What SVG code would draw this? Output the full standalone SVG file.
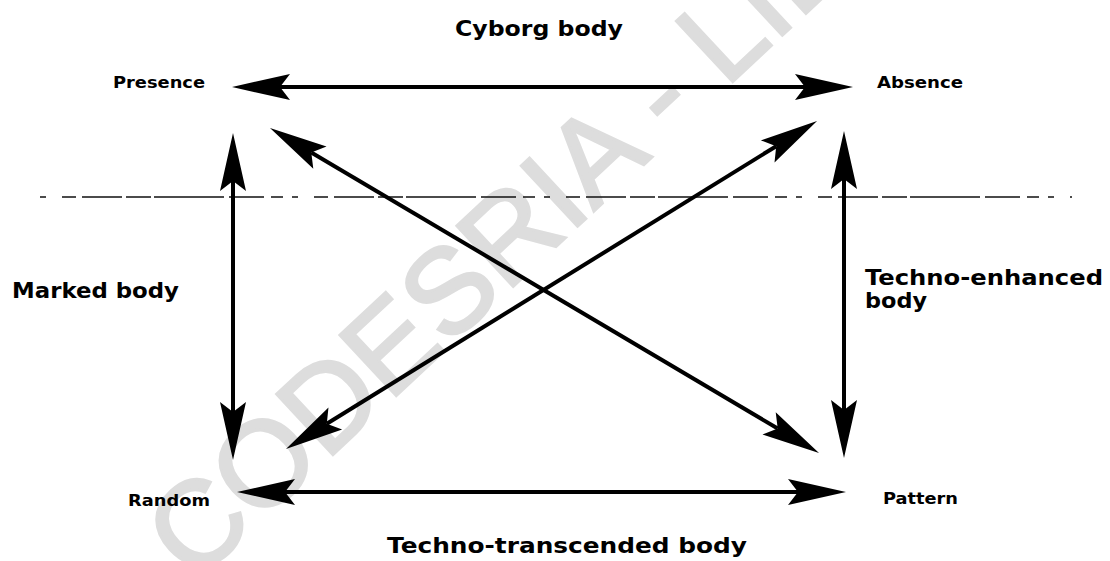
<svg xmlns="http://www.w3.org/2000/svg" width="1110" height="561" viewBox="0 0 1110 561">
  <style>
    .big { font-family: "DejaVu Sans", Verdana, sans-serif; font-weight: bold; font-size: 21px; fill: #000; }
    .small { font-family: "DejaVu Sans", Verdana, sans-serif; font-weight: bold; font-size: 16px; fill: #000; }
    .conn { stroke: #000; stroke-width: 4; fill: none; marker-start: url(#head); marker-end: url(#head); }
    .wm { font-family: "Liberation Sans", Arial, sans-serif; font-size: 120px; fill: #dddddd; stroke: #dddddd; stroke-width: 3; }
  </style>
  <defs>
    <marker id="head" markerUnits="userSpaceOnUse" viewBox="-12 -15 62 30" refX="0" refY="0" markerWidth="62" markerHeight="30" orient="auto-start-reverse" overflow="visible">
      <path d="M48,0 L-10,-13 L0,0 L-10,13 Z" fill="#000"/>
    </marker>
  </defs>
  <rect width="1110" height="561" fill="#fff"/>
  <g id="watermark">
    <text class="wm" transform="translate(194,584) rotate(-43)">CODESRIA - LIB</text>
  </g>
  <g id="divider">
    <line x1="40" y1="197" x2="1072" y2="197" stroke="#111" stroke-width="1.5" stroke-dasharray="6 16 14 6 40 4 25 3 70 5 35 7 12 9"/>
  </g>
  <g id="connectors">
    <line class="conn" x1="280" y1="87" x2="805" y2="87"/>
    <line class="conn" x1="285" y1="492" x2="798" y2="492"/>
    <line class="conn" x1="233" y1="181" x2="233" y2="412"/>
    <line class="conn" x1="844" y1="179" x2="844" y2="410"/>
    <line class="conn" x1="311.3" y1="152.5" x2="777.7" y2="428.5"/>
    <line class="conn" x1="776.2" y1="146.2" x2="326.8" y2="423.8"/>
  </g>
  <g id="label-cyborg"><text class="big" x="455" y="36" textLength="168" lengthAdjust="spacingAndGlyphs">Cyborg body</text></g>
  <g id="node-presence"><text class="small" x="113" y="88" textLength="92" lengthAdjust="spacingAndGlyphs">Presence</text></g>
  <g id="node-absence"><text class="small" x="877" y="88" textLength="86" lengthAdjust="spacingAndGlyphs">Absence</text></g>
  <g id="label-marked"><text class="big" x="12" y="298" textLength="167" lengthAdjust="spacingAndGlyphs">Marked body</text></g>
  <g id="label-enhanced">
    <text class="big" x="865" y="285" textLength="238" lengthAdjust="spacingAndGlyphs">Techno-enhanced</text>
    <text class="big" x="865" y="308" textLength="62" lengthAdjust="spacingAndGlyphs">body</text>
  </g>
  <g id="node-random"><text class="small" x="128" y="506" textLength="82" lengthAdjust="spacingAndGlyphs">Random</text></g>
  <g id="node-pattern"><text class="small" x="883" y="504" textLength="75" lengthAdjust="spacingAndGlyphs">Pattern</text></g>
  <g id="label-transcended"><text class="big" x="387" y="553" textLength="360" lengthAdjust="spacingAndGlyphs">Techno-transcended body</text></g>
</svg>
